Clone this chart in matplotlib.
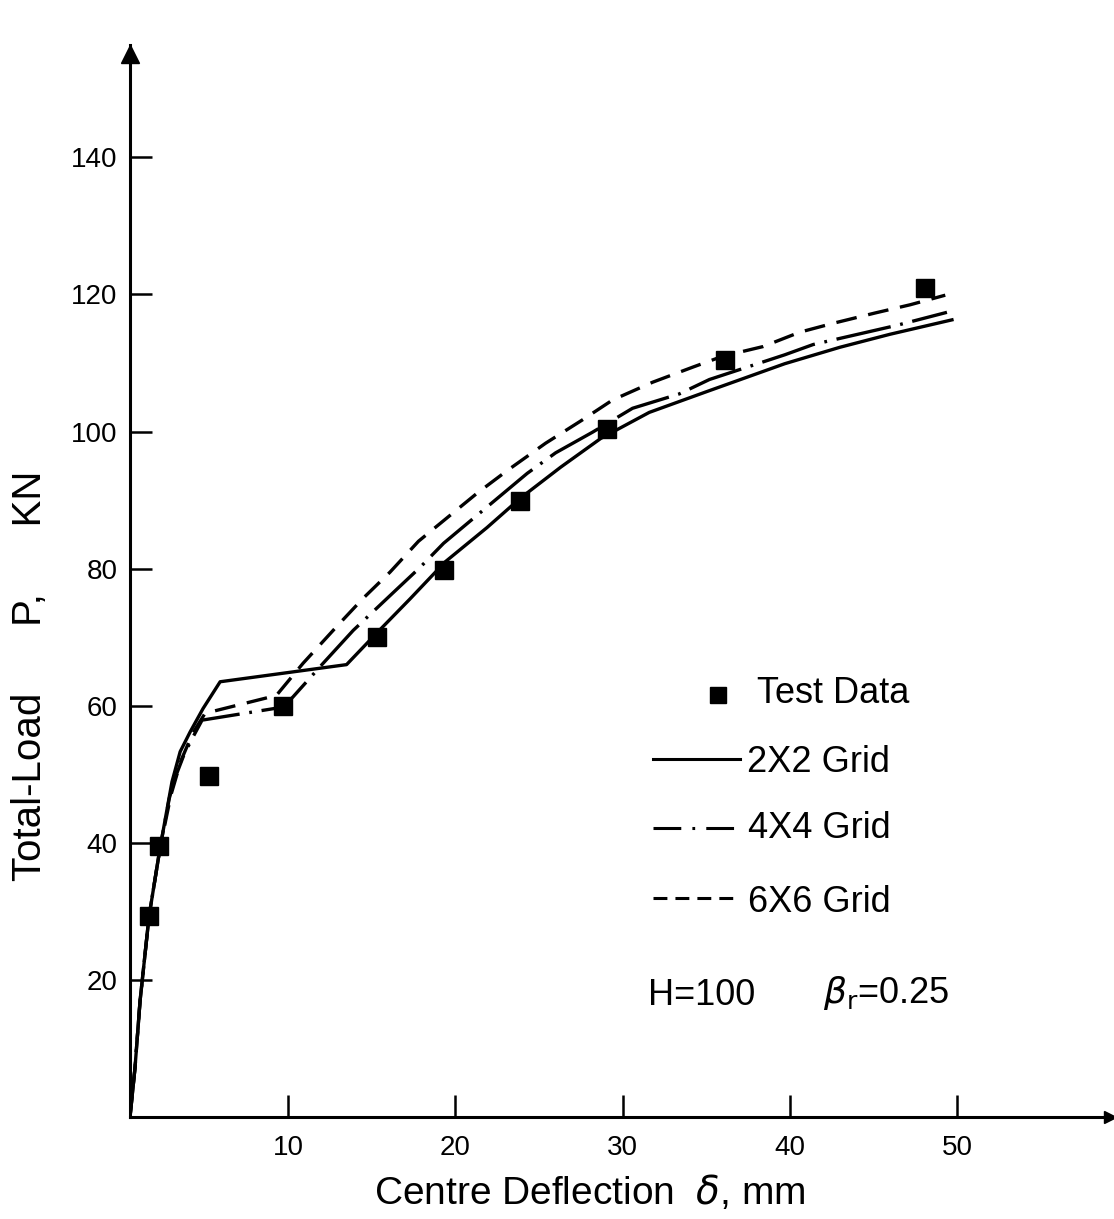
import matplotlib
matplotlib.use("Agg")
import matplotlib.pyplot as plt

plt.rcParams['font.family'] = ['Liberation Sans', 'DejaVu Sans']
plt.rcParams['mathtext.fontset'] = 'dejavusans'
plt.rcParams['lines.scale_dashes'] = False

# Test measurements: centre deflection (mm) vs total load (KN)
test_defl = [1.7, 2.3, 5.3, 9.7, 15.3, 19.3, 23.9, 29.1, 36.1, 48.1]
test_load = [29.3, 39.5, 49.7, 59.9, 70.0, 79.8, 89.9, 100.4, 110.4, 120.9]

# Finite element predictions for three mesh sizes
grid2_defl = [0.55, 0.85, 1.15, 1.69, 2.35, 3.06, 3.55, 4.15, 4.92, 5.94, 13.5,
              15.3, 17.3, 19.4, 21.9, 23.9, 26.3, 28.7, 31.6, 35.0, 39.7, 43.0,
              46.0, 49.7]
grid2_load = [0, 7.2, 16.9, 29.3, 39.3, 48.9, 53.3, 56.2, 59.6, 63.5, 66.0,
              70.6, 75.6, 81.0, 86.0, 90.3, 94.8, 99.0, 102.8, 105.8, 109.9, 112.3,
              114.2, 116.3]

grid4_defl = [0.55, 0.85, 1.15, 1.69, 2.35, 2.9, 3.25, 3.8, 4.33, 4.86, 9.7,
              10.3, 12.1, 13.9, 16.2, 17.9, 19.3, 21.8, 24.3, 26.0, 28.2, 30.6,
              33.4, 35.2, 39.7, 41.4, 46.4, 49.4]
grid4_load = [0, 7.2, 16.9, 29.3, 39.3, 46.5, 49.5, 53.0, 55.5, 57.9, 59.8,
              61.3, 66.2, 71.0, 76.3, 80.2, 83.7, 88.8, 93.9, 96.9, 99.9, 103.4,
              105.5, 107.6, 111.2, 112.7, 115.5, 117.4]

grid6_defl = [0.55, 0.85, 1.15, 1.69, 2.35, 3.0, 3.6, 4.3, 5.04, 9.3, 10.9,
              13.0, 14.5, 16.1, 17.8, 19.5, 21.3, 23.1, 25.4, 27.6, 29.4, 31.8,
              34.2, 36.0, 38.4, 40.6, 42.6, 45.1, 47.2, 49.3]
grid6_load = [0, 7.2, 16.9, 29.3, 39.3, 47.0, 52.0, 56.0, 58.9, 61.5, 66.2,
              71.8, 75.7, 79.5, 84.0, 87.4, 91.0, 94.3, 98.3, 101.7, 104.6, 107.2,
              109.4, 111.0, 112.4, 114.5, 115.8, 117.3, 118.5, 119.9]

x_ticks = [10, 20, 30, 40, 50]
y_ticks = [20, 40, 60, 80, 100, 120, 140]

W, H = 1114, 1219
fig = plt.figure(figsize=(W / 100, H / 100), dpi=100)
ax = fig.add_axes([130 / W, 102 / H, 980 / W, 1072 / H])

lw = 2.4
ax.plot(grid2_defl, grid2_load, color='black', lw=lw, solid_joinstyle='round')
ax.plot(grid4_defl, grid4_load, color='black', lw=lw, dashes=(40, 7, 2, 7))
ax.plot(grid6_defl, grid6_load, color='black', lw=lw, dashes=(15, 8.5))
ax.plot(test_defl, test_load, linestyle='none', marker='s', markersize=12.5,
        color='black')

ax.set_xlim(0.55, 59.15)
ax.set_ylim(0, 156.4)

for side in ('top', 'right'):
    ax.spines[side].set_visible(False)
for side in ('left', 'bottom'):
    ax.spines[side].set_linewidth(2.2)

# arrowheads on the axes
ax.plot(1, 0, marker='>', markersize=9, color='black', transform=ax.transAxes,
        clip_on=False)
ax.plot(0, 0.992, marker='^', markersize=13, color='black', transform=ax.transAxes,
        clip_on=False)

ax.set_xticks(x_ticks)
ax.set_yticks(y_ticks)
ax.tick_params(axis='x', direction='in', length=16, width=1.8, pad=13, labelsize=20)
ax.tick_params(axis='y', direction='in', length=16, width=1.8, pad=9, labelsize=20)

ax.set_xlabel(r'Centre Deflection  $\delta$, mm', fontsize=28)
ax.xaxis.set_label_coords(0.469, -0.052)
ax.set_ylabel('Total-Load      P,      KN', fontsize=29)
ax.yaxis.set_label_coords(-0.083, 0.412)

# key
tA = ax.transAxes
ax.plot(0.600, 0.3937, marker='s', markersize=11, color='black', transform=tA,
        clip_on=False)
ax.text(0.640, 0.3862, 'Test Data', fontsize=26, transform=tA, va='baseline')
ax.plot([0.5337, 0.6224], [0.334, 0.334], color='black', lw=2.2, transform=tA)
ax.text(0.6296, 0.3218, '2X2 Grid', fontsize=26, transform=tA, va='baseline')
ax.plot([0.5337, 0.6224], [0.2696, 0.2696], color='black', lw=2.2,
        dashes=(20, 8, 2, 8), transform=tA)
ax.text(0.6310, 0.2603, '4X4 Grid', fontsize=26, transform=tA, va='baseline')
ax.plot([0.5337, 0.6224], [0.2043, 0.2043], color='black', lw=2.2,
        dashes=(10, 5.8), transform=tA)
ax.text(0.6310, 0.1912, '6X6 Grid', fontsize=26, transform=tA, va='baseline')

ax.text(0.5286, 0.1045, 'H=100', fontsize=26, transform=tA, va='baseline')
ax.text(0.707, 0.1063, r'$\beta_\mathrm{r}$=0.25', fontsize=26, transform=tA,
        va='baseline')

fig.savefig('out.png', dpi=100)
